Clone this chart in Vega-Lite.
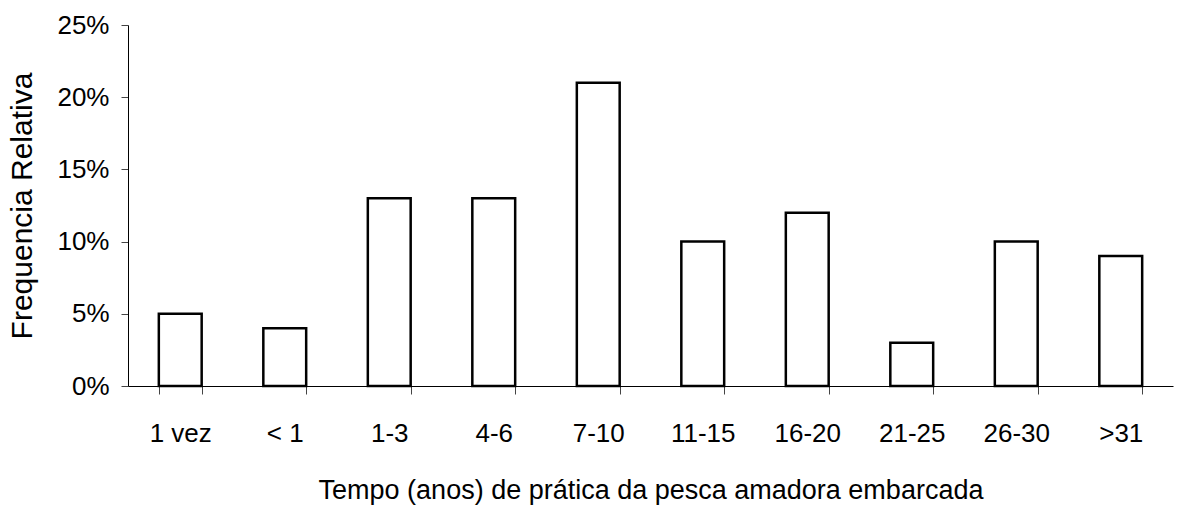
{
  "$schema": "https://vega.github.io/schema/vega-lite/v6.json",
  "width": 1045,
  "height": 361,
  "autosize": {"type": "none"},
  "padding": {"left": 128, "top": 25, "right": 4, "bottom": 130},
  "background": "white",
  "config": {"view": {"stroke": null}, "font": "Liberation Sans"},
  "data": {
    "values": [
      {"tempo": "1 vez", "freq": 0.05},
      {"tempo": "< 1", "freq": 0.04},
      {"tempo": "1-3", "freq": 0.13},
      {"tempo": "4-6", "freq": 0.13},
      {"tempo": "7-10", "freq": 0.21},
      {"tempo": "11-15", "freq": 0.10},
      {"tempo": "16-20", "freq": 0.12},
      {"tempo": "21-25", "freq": 0.03},
      {"tempo": "26-30", "freq": 0.10},
      {"tempo": ">31", "freq": 0.09}
    ]
  },
  "mark": {"type": "bar", "fill": "white", "stroke": "black", "strokeWidth": 2.5},
  "encoding": {
    "x": {
      "field": "tempo",
      "type": "nominal",
      "sort": null,
      "scale": {"paddingInner": 0.59, "paddingOuter": 0.295},
      "axis": {
        "title": "Tempo (anos) de prática da pesca amadora embarcada",
        "labelAngle": 0,
        "labelFontSize": 26,
        "labelColor": "black",
        "labelPadding": 26,
        "titleFontSize": 27,
        "titleFontWeight": "normal",
        "titleColor": "black",
        "titlePadding": 31,
        "domainColor": "black",
        "tickColor": "#444",
        "tickSize": 8,
        "tickBand": "extent",
        "grid": false
      }
    },
    "y": {
      "field": "freq",
      "type": "quantitative",
      "scale": {"domain": [0, 0.25]},
      "axis": {
        "title": "Frequencia Relativa",
        "format": ".0%",
        "values": [0, 0.05, 0.1, 0.15, 0.2, 0.25],
        "labelFontSize": 26,
        "labelColor": "black",
        "labelPadding": 12,
        "titleFontSize": 30,
        "titleFontWeight": "normal",
        "titleColor": "black",
        "titlePadding": 19,
        "domainColor": "black",
        "tickColor": "#444",
        "tickSize": 7,
        "grid": false
      }
    }
  }
}
